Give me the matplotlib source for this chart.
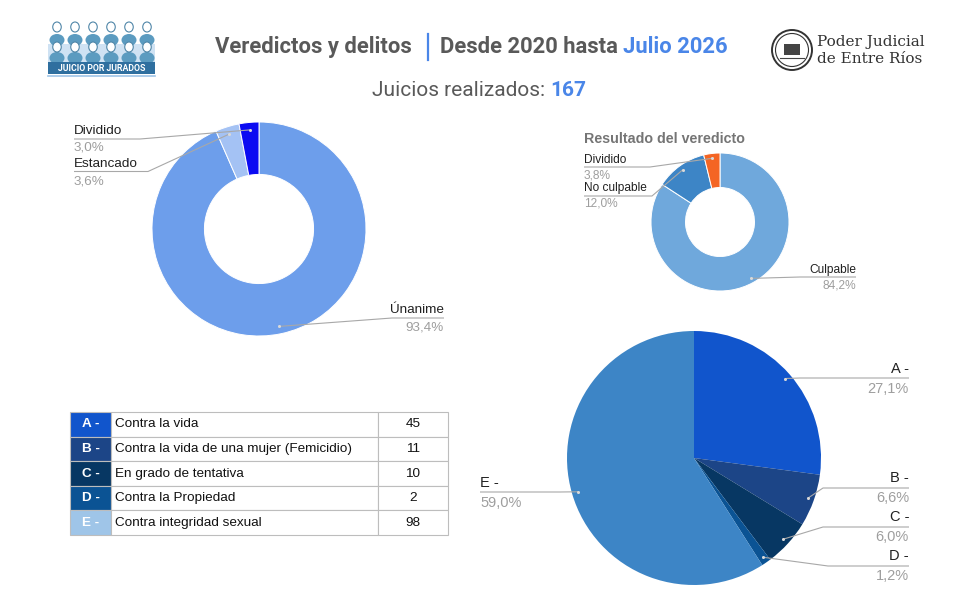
import matplotlib
matplotlib.use("Agg")
import matplotlib.pyplot as plt
from matplotlib.patches import Rectangle, Circle, Ellipse
import numpy as np

# ---------------- DATA ----------------
title_left = "Veredictos y delitos"
title_right = "Desde 2020 hasta "
title_hl = "Julio 2026"
total_label = "Juicios realizados: "
total_value = "167"

veredicto_labels = ["Únanime", "Estancado", "Dividido"]
veredicto_values = [156, 6, 5]

resultado_title = "Resultado del veredicto"
resultado_labels = ["Culpable", "No culpable", "Dividido"]
resultado_values = [133, 19, 6]

delito_letters = ["A -", "B -", "C -", "D -", "E -"]
delito_names = ["Contra la vida", "Contra la vida de una mujer (Femicidio)",
                "En grado de tentativa", "Contra la Propiedad",
                "Contra integridad sexual"]
delito_values = [45, 11, 10, 2, 98]

# ---------------- STYLE ----------------
W, H = 960, 600
fig = plt.figure(figsize=(W / 100, H / 100), dpi=100)
fig.patch.set_facecolor("white")

ov = fig.add_axes([0, 0, 1, 1], zorder=10)
ov.set_xlim(0, W)
ov.set_ylim(H, 0)
ov.axis("off")
ov.patch.set_alpha(0)

LBL = "Liberation Sans"
NAME_C = "#212121"
PCT_C = "#9e9e9e"
LINE_C = "#a8a8a8"

veredicto_colors = ["#6d9eeb", "#a4c2f4", "#0b0bf2"]
resultado_colors = ["#6fa8dc", "#3d85c6", "#f46524"]
delito_colors = ["#1155cc", "#1c4587", "#073763", "#0b5394", "#3d85c6"]
table_letter_colors = ["#1155cc", "#1c4587", "#073763", "#0b5394", "#9fc5e8"]


def pie_axes(cx, cy, r):
    ax = fig.add_axes([(cx - r) / W, 1 - (cy + r) / H, 2 * r / W, 2 * r / H], zorder=5)
    return ax


def fix_axes(ax):
    ax.set_xlim(-1, 1)
    ax.set_ylim(-1, 1)
    ax.set_aspect("auto")
    ax.axis("off")


def pct_str(v, tot):
    return f"{v / tot * 100:.1f}%".replace(".", ",")


def draw_labels(wedges, values, labels, cx, cy, r, k, layout, fs):
    tot = sum(values)
    for w, v, lab, lay in zip(wedges, values, labels, layout):
        mid = np.deg2rad((w.theta1 + w.theta2) / 2)
        px = cx + k * r * np.cos(mid)
        py = cy - k * r * np.sin(mid)
        side, tx, ny, py_, ly, bx = lay
        ha = "left" if side == "L" else "right"
        ov.text(tx, ny, lab, ha=ha, va="center", fontsize=fs, family=LBL, color=NAME_C)
        ov.text(tx, py_, pct_str(v, tot), ha=ha, va="center", fontsize=fs, family=LBL, color=PCT_C)
        ov.plot([tx, bx, px], [ly, ly, py], color=LINE_C, lw=0.8, solid_capstyle="butt")
        ov.plot([px], [py], marker="o", ms=2.2, color="#d9d9d9", mec="none")


# ---------------- HEADER ----------------
TF = 15.8
t1 = ov.text(412, 47, title_left, ha="right", va="center", fontsize=TF,
             family="Roboto", weight="bold", color="#595959")
ov.plot([428, 428], [34, 60], color="#4a86e8", lw=1.6)
t2 = ov.text(440, 47, title_right, ha="left", va="center", fontsize=TF,
             family="Roboto", weight="bold", color="#595959")
ov.annotate(title_hl, xy=(1, 0.5), xycoords=t2, va="center", ha="left", fontsize=TF,
            family="Roboto", weight="bold", color="#4a86e8")

t3 = ov.text(372, 90, total_label, ha="left", va="center", fontsize=15,
             family="Roboto", color="#595959")
ov.annotate(total_value, xy=(1, 0.5), xycoords=t3, va="center", ha="left", fontsize=15,
            family="Roboto", weight="bold", color="#4a86e8")

# Juicio por Jurados logo (decorative)
ov.add_patch(Rectangle((48, 44), 107, 18, color="#cfe2f3", lw=0))
for row, (hy, by) in enumerate([(27, 40), (47, 58)]):
    for i in range(6):
        x = 57 + i * 18
        ov.add_patch(Ellipse((x, by), 15, 12, color="#5b9bc0", lw=0))
        ov.add_patch(Ellipse((x, hy), 8.5, 10, facecolor="white", edgecolor="#4f86a8", lw=0.8))
ov.add_patch(Rectangle((48, 62), 107, 12, color="#2f6f9f", lw=0))
ov.text(101.5, 68.3, "JUICIO POR JURADOS", ha="center", va="center", fontsize=6.3,
        family="Roboto", weight="bold", color="white")
ov.plot([48, 155], [76, 76], color="#9fc5e8", lw=1.2)

# Poder Judicial logo (decorative)
ov.add_patch(Circle((792, 50), 20, facecolor="white", edgecolor="#333333", lw=1.4))
ov.add_patch(Circle((792, 50), 16.5, facecolor="none", edgecolor="#333333", lw=0.8))
ov.add_patch(Rectangle((784, 44), 16, 11, color="#444444", lw=0))
ov.plot([780, 804], [58, 58], color="#444444", lw=0.8)
ov.text(817, 42, "Poder Judicial", ha="left", va="center", fontsize=11,
        family="DejaVu Serif", color="#333333")
ov.text(817, 59, "de Entre Ríos", ha="left", va="center", fontsize=11,
        family="DejaVu Serif", color="#333333")

# ---------------- LEFT DONUT ----------------
cx, cy, r = 259, 229, 107
ax1 = pie_axes(cx, cy, r)
w1, _ = ax1.pie(veredicto_values, colors=veredicto_colors, startangle=90, counterclock=False,
                radius=1, wedgeprops=dict(width=0.49, edgecolor="white", linewidth=0.7))
fix_axes(ax1)
layout1 = [("R", 444, 310, 327, 318, 392),
           ("L", 74, 164, 181, 171.5, 148),
           ("L", 74, 131, 148, 139, 140)]
draw_labels(w1, veredicto_values, veredicto_labels, cx, cy, r, 0.93, layout1, 9.7)

# ---------------- RIGHT DONUT ----------------
cx, cy, r = 720, 222, 69
ax2 = pie_axes(cx, cy, r)
w2, _ = ax2.pie(resultado_values, colors=resultado_colors, startangle=90, counterclock=False,
                radius=1, wedgeprops=dict(width=0.5, edgecolor="white", linewidth=0.7))
fix_axes(ax2)
ov.text(584, 139, resultado_title, ha="left", va="center", fontsize=10.3,
        family=LBL, weight="bold", color="#757575")
layout2 = [("R", 856, 270, 285, 277, 800),
           ("L", 584, 188, 203, 196, 652),
           ("L", 584, 160, 175, 167, 650)]
draw_labels(w2, resultado_values, resultado_labels, cx, cy, r, 0.93, layout2, 8.6)

# ---------------- PIE ----------------
cx, cy, r = 694, 458, 127
ax3 = pie_axes(cx, cy, r)
w3, _ = ax3.pie(delito_values, colors=delito_colors, startangle=90, counterclock=False,
                radius=1, wedgeprops=dict(edgecolor="none"))
fix_axes(ax3)
layout3 = [("R", 909, 369, 389, 378, 800),
           ("R", 909, 478, 498, 488, 823),
           ("R", 909, 517, 537, 527, 823),
           ("R", 909, 556, 576, 566, 828),
           ("L", 480, 483, 503, 492, 560)]
draw_labels(w3, delito_values, delito_letters, cx, cy, r, 0.95, layout3, 10.5)

# ---------------- TABLE ----------------
cell_text = [[l, n, str(v)] for l, n, v in zip(delito_letters, delito_names, delito_values)]
tx0, ty0, tx1, ty1 = 70, 412, 448, 535
tbl = ov.table(cellText=cell_text, colWidths=[41, 267, 70], cellLoc="center",
               bbox=[tx0 / W, 1 - ty1 / H, (tx1 - tx0) / W, (ty1 - ty0) / H])
tbl.auto_set_font_size(False)
for (ri, ci), cell in tbl.get_celld().items():
    cell.set_edgecolor("#bdbdbd")
    cell.set_linewidth(0.8)
    txt = cell.get_text()
    txt.set_fontsize(9.7)
    txt.set_family(LBL)
    if ci == 0:
        cell.set_facecolor(table_letter_colors[ri])
        txt.set_color("white")
        txt.set_weight("bold")
    elif ci == 1:
        txt.set_color("#111111")
        cell._loc = "left"
        txt.set_horizontalalignment("left")
        cell.PAD = 0.015
    else:
        txt.set_color("#111111")

fig.savefig("out.png", dpi=100, facecolor="white")
